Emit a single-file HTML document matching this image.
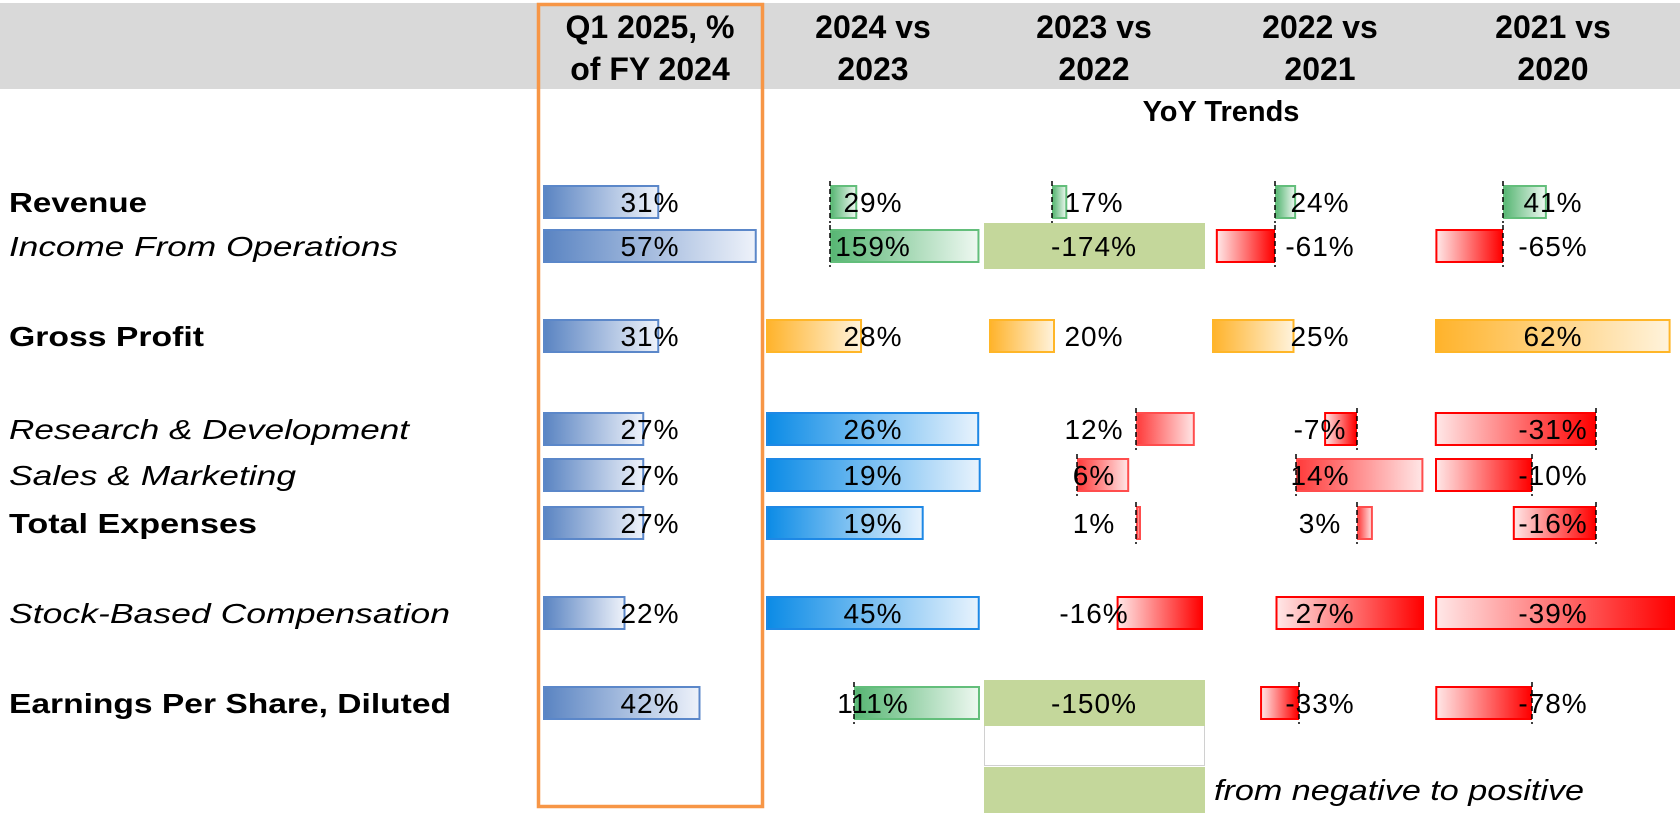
<!DOCTYPE html>
<html><head><meta charset="utf-8"><style>
html,body{margin:0;padding:0;background:#fff;width:1680px;height:813px;overflow:hidden}
svg{display:block;font-family:"Liberation Sans",sans-serif}
</style></head><body>
<svg id="chart" width="1680" height="813" viewBox="0 0 1680 813" xmlns="http://www.w3.org/2000/svg">
<defs>
<linearGradient id="g-q1" x1="0" x2="1"><stop offset="0" stop-color="#5a84c2"/><stop offset="1" stop-color="#eef2fa"/></linearGradient>
<linearGradient id="g-blue" x1="0" x2="1"><stop offset="0" stop-color="#0b8be6"/><stop offset="1" stop-color="#e8f3fd"/></linearGradient>
<linearGradient id="g-green" x1="0" x2="1"><stop offset="0" stop-color="#57b673"/><stop offset="1" stop-color="#eef8f1"/></linearGradient>
<linearGradient id="g-orange" x1="0" x2="1"><stop offset="0" stop-color="#ffb32b"/><stop offset="1" stop-color="#fff3dc"/></linearGradient>
<linearGradient id="g-redpos" x1="0" x2="1"><stop offset="0" stop-color="#ff3b3b"/><stop offset="1" stop-color="#ffe6e6"/></linearGradient>
<linearGradient id="g-redneg" x1="1" x2="0"><stop offset="0" stop-color="#ff0000"/><stop offset="1" stop-color="#ffe8e8"/></linearGradient>
</defs>
<rect x="0" y="3" width="1680" height="86" fill="#d9d9d9"/>
<g id="headers" font-weight="bold" font-size="32" text-anchor="middle" fill="#000"></g>
<text x="1221" y="121" font-size="29" font-weight="bold" text-anchor="middle">YoY Trends</text>
<g id="labels" font-size="28"></g>
<rect x="984.5" y="725.5" width="220" height="40" fill="#fff" stroke="#d0d0d0"/>
<rect x="984" y="767" width="221" height="46" fill="#c4d79b"/>
<text x="1214" y="800" font-size="29" font-style="italic" textLength="370" lengthAdjust="spacingAndGlyphs">from negative to positive</text>
<g id="cells"></g>
<rect x="538.5" y="4.5" width="224" height="802" fill="none" stroke="#f79646" stroke-width="3.5"/>
</svg>
<script>
// ---- data ----
const metrics = ["Revenue","Income From Operations","Gross Profit","Research & Development","Sales & Marketing","Total Expenses","Stock-Based Compensation","Earnings Per Share, Diluted"];
const columns = ["Q1 2025, % of FY 2024","2024 vs 2023","2023 vs 2022","2022 vs 2021","2021 vs 2020"];
const q1Values = [31,57,31,27,27,27,22,42];
const y2024Values = [29,159,28,26,19,19,45,111];
const y2023Values = [17,-174,20,12,6,1,-16,-150];
const y2022Values = [24,-61,25,-7,14,3,-27,-33];
const y2021Values = [41,-65,62,-31,-10,-16,-39,-78];
const flippedSign = [[],[],[1,7],[],[]]; // cells turning from negative to positive

// ---- layout ----
const NS="http://www.w3.org/2000/svg";
const svg=document.getElementById('chart');
const rowY=[202,246,336,429,475,523,613,703];
const labelStyle=["bold","italic","bold","italic","italic","bold","italic","bold"];
const labelLen=[138,389,195,400,287,248,441,442];
const colX0=[543,766,984,1211,1434], colX1=[763,980,1205,1430,1675];
const colCenter=[650,873,1094,1320,1553];
const axisX=[
 [543,543,543,543,543,543,543,543],
 [830,830,766,766,766,766,766,854],
 [1052,1052,989,1136,1077,1136,1203,1052],
 [1275,1275,1212,1357,1296,1357,1424,1299],
 [1503,1503,1435,1596,1532,1596,1675,1532]];
const kx=[
 [3.75,3.75,3.75,3.75,3.75,3.75,3.75,3.75],
 [0.94,0.94,3.43,8.2,11.3,8.3,4.75,1.135],
 [0.9,0.9,3.3,4.9,8.7,5,5.4,1],
 [0.88,0.97,3.3,4.7,9.1,5.3,5.5,1.18],
 [1.07,1.04,3.8,5.2,9.7,5.2,6.15,1.24]];
const dashed=[[],[0,1,7],[0,1,3,4,5],[0,1,3,4,5,7],[0,1,3,4,5,7]];
const allValues=[q1Values,y2024Values,y2023Values,y2022Values,y2021Values];
function styleFor(c,r,v){
  if(c===0) return {fill:"url(#g-q1)",stroke:"#5b87c9"};
  if(r===2) return {fill:"url(#g-orange)",stroke:"#ffb628"};
  if(r<=1||r===7){ if(v>=0) return {fill:"url(#g-green)",stroke:"#63be7b"}; return {fill:"url(#g-redneg)",stroke:"#ff0000"}; }
  if(c===1) return {fill:"url(#g-blue)",stroke:"#1e88e5"};
  if(v>=0) return {fill:"url(#g-redpos)",stroke:"#ff4d4d"};
  return {fill:"url(#g-redneg)",stroke:"#ff0000"};
}
function mk(tag,attrs,parent){const e=document.createElementNS(NS,tag);for(const k in attrs)e.setAttribute(k,attrs[k]);parent.appendChild(e);return e;}

const hg=document.getElementById('headers');
const hdrLines=[["Q1 2025, %","of FY 2024"],["2024 vs","2023"],["2023 vs","2022"],["2022 vs","2021"],["2021 vs","2020"]];
hdrLines.forEach((ls,c)=>{ls.forEach((s,i)=>{
  const t=mk('text',{x:colCenter[c],y:38+i*42},hg);
  
  
  t.textContent=s;});});

const lg=document.getElementById('labels');
metrics.forEach((m,r)=>{
  const t=mk('text',{x:9,y:rowY[r]+10,textLength:labelLen[r],lengthAdjust:"spacingAndGlyphs"},lg);
  if(labelStyle[r]==="bold")t.setAttribute('font-weight','bold');else t.setAttribute('font-style','italic');
  
  
  t.textContent=m;});

const cg=document.getElementById('cells');
allValues.forEach((vals,c)=>{
  vals.forEach((v,r)=>{
    const y=rowY[r];
    if(flippedSign[c].includes(r)){
      const f=mk('rect',{x:colX0[c],y:y-23,width:colX1[c]-colX0[c],height:46,fill:"#c4d79b"},cg);
      
      
    } else {
      const ax=axisX[c][r], len=Math.abs(v)*kx[c][r];
      const x=v>=0?ax:ax-len;
      const st=styleFor(c,r,v);
      const b=mk('rect',{x:x+1,y:y-16,width:Math.max(len-2,1),height:32,fill:st.fill,stroke:st.stroke,'stroke-width':2},cg);
      
      
      if(dashed[c].includes(r)){
        const l=mk('line',{x1:ax,x2:ax,y1:y-21,y2:y+21,stroke:"#000","stroke-width":1.5,"stroke-dasharray":"5,3"},cg);
        
        
      }
    }
    const t=mk('text',{x:colCenter[c],y:y+10,'font-size':28,'text-anchor':'middle','letter-spacing':1},cg);
    
    
    t.textContent=v+"%";
  });
});
</script>
</body></html>
